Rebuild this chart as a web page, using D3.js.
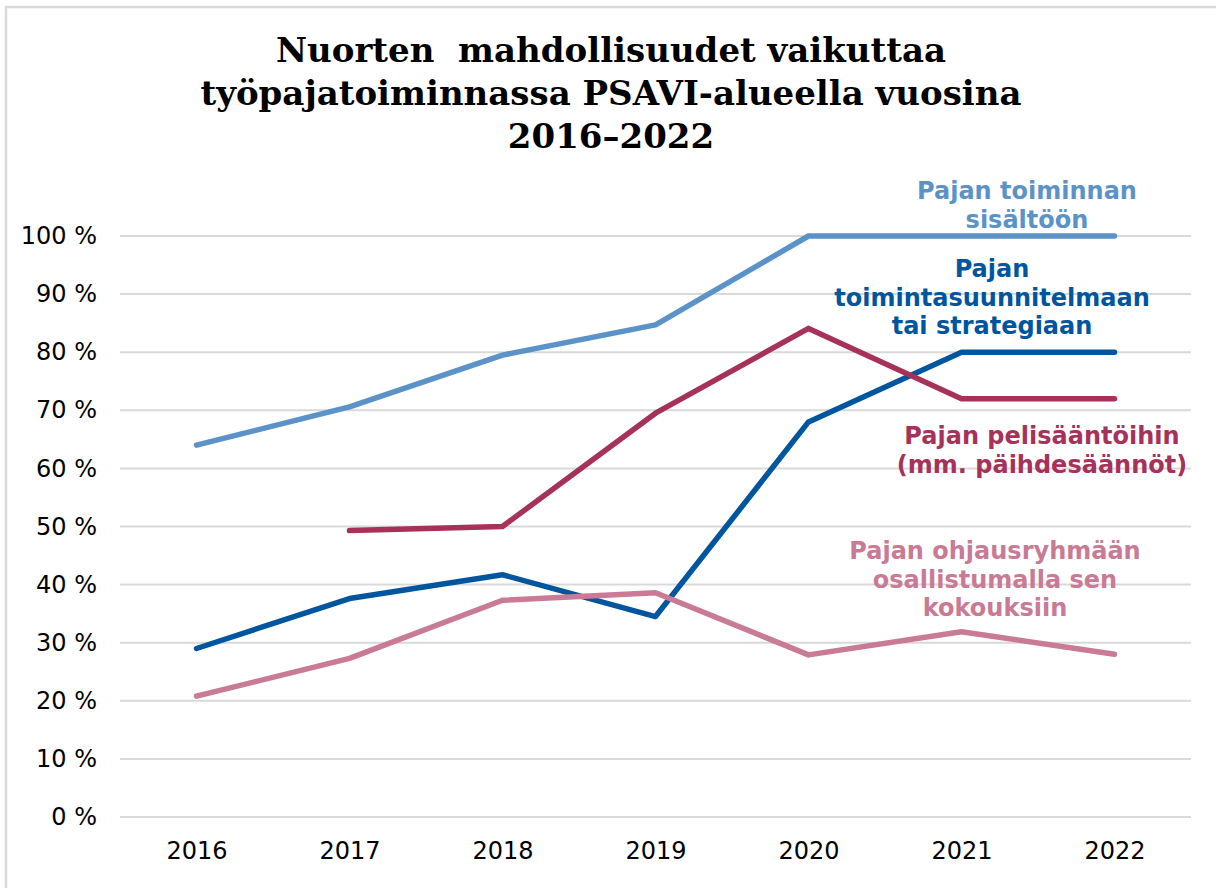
<!DOCTYPE html>
<html>
<head>
<meta charset="utf-8">
<script src="https://cdn.jsdelivr.net/npm/d3@7"></script>
<style>
  html, body { margin: 0; padding: 0; background: #fff; }
  svg { display: block; }
</style>
</head>
<body>
<div id="chart"></div>
<script>
// Years on the x axis
const years = ["2016", "2017", "2018", "2019", "2020", "2021", "2022"];

// Share of workshops (%) per year for each way of having a say
const sisaltoon = [64, 70.6, 79.5, 84.7, 100, 100, 100];
const suunnitelmaan = [29, 37.6, 41.7, 34.5, 68, 80, 80];
const pelisaantoihin = [null, 49.3, 50, 69.5, 84.1, 72, 72];
const ohjausryhmaan = [20.8, 27.3, 37.3, 38.6, 27.9, 31.9, 28];

// Y axis ticks
const yTicks = [0, 10, 20, 30, 40, 50, 60, 70, 80, 90, 100];

const titleLines = [
  "Nuorten  mahdollisuudet vaikuttaa",
  "työpajatoiminnassa PSAVI-alueella vuosina",
  "2016–2022"
];

const series = [
  { values: sisaltoon, color: "#5b93c8",
    label: ["Pajan toiminnan", "sisältöön"], lx: 1027, ly: 191 },
  { values: suunnitelmaan, color: "#00559f",
    label: ["Pajan", "toimintasuunnitelmaan", "tai strategiaan"], lx: 992, ly: 269 },
  { values: pelisaantoihin, color: "#a63259",
    label: ["Pajan pelisääntöihin", "(mm. päihdesäännöt)"], lx: 1042, ly: 436 },
  { values: ohjausryhmaan, color: "#c97a95",
    label: ["Pajan ohjausryhmään", "osallistumalla sen", "kokouksiin"], lx: 995, ly: 551 }
];

const W = 1216, H = 888;
const svg = d3.select("#chart").append("svg")
  .attr("width", W).attr("height", H);

// Outer chart frame
svg.append("rect")
  .attr("x", 6).attr("y", 7)
  .attr("width", W + 20).attr("height", H + 20)
  .attr("fill", "#fff")
  .attr("stroke", "#d9d9d9").attr("stroke-width", 2.5);

// Title
const title = svg.append("text")
  .attr("text-anchor", "middle")
  .style("font-family", "'DejaVu Serif', serif")
  .style("font-weight", "bold")
  .style("font-size", "34px")
  .style("white-space", "pre")
  .attr("fill", "#000");
titleLines.forEach((t, i) => {
  title.append("tspan")
    .attr("x", 611)
    .attr("y", 62 + i * 43)
    .text(t);
});

const plotLeft = 120, plotRight = 1191, plotTop = 236, plotBottom = 817;

const x = d3.scalePoint().domain(years).range([plotLeft, plotRight]).padding(0.5);
const y = d3.scaleLinear().domain([0, 100]).range([plotBottom, plotTop]);

// Horizontal gridlines
svg.append("g")
  .selectAll("line")
  .data(yTicks)
  .join("line")
  .attr("x1", plotLeft).attr("x2", plotRight)
  .attr("y1", d => y(d)).attr("y2", d => y(d))
  .attr("stroke", "#d9d9d9").attr("stroke-width", 2);

// Y axis labels
const yAxis = d3.axisLeft(y).tickValues(yTicks).tickSize(0).tickPadding(0)
  .tickFormat(d => d + " %");
svg.append("g")
  .attr("transform", `translate(97,0)`)
  .call(yAxis)
  .call(g => g.select(".domain").remove())
  .call(g => g.selectAll("text")
    .style("font-family", "'DejaVu Sans', Verdana, sans-serif")
    .style("font-size", "24px")
    .attr("fill", "#000"));

// X axis labels
const xAxis = d3.axisBottom(x).tickSize(0).tickPadding(0);
svg.append("g")
  .attr("transform", `translate(0,${plotBottom + 25})`)
  .call(xAxis)
  .call(g => g.select(".domain").remove())
  .call(g => g.selectAll("text")
    .style("font-family", "'DejaVu Sans', Verdana, sans-serif")
    .style("font-size", "24px")
    .attr("fill", "#000"));

// Lines
const line = d3.line()
  .defined(d => d.v !== null)
  .x(d => x(d.year))
  .y(d => y(d.v));

series.forEach(s => {
  const pts = years.map((yr, i) => ({ year: yr, v: s.values[i] }));
  svg.append("path")
    .datum(pts)
    .attr("d", line)
    .attr("fill", "none")
    .attr("stroke", s.color)
    .attr("stroke-width", 5.5)
    .attr("stroke-linejoin", "round")
    .attr("stroke-linecap", "round");
});

// Series labels
series.forEach(s => {
  const t = svg.append("text")
    .attr("text-anchor", "middle")
    .style("font-family", "'DejaVu Sans', Verdana, sans-serif")
    .style("font-weight", "bold")
    .style("font-size", "24px")
    .attr("fill", s.color);
  s.label.forEach((ln, i) => {
    t.append("tspan")
      .attr("x", s.lx)
      .attr("y", s.ly + i * 28.5)
      .attr("dy", "0.35em")
      .text(ln);
  });
});
</script>
</body>
</html>
